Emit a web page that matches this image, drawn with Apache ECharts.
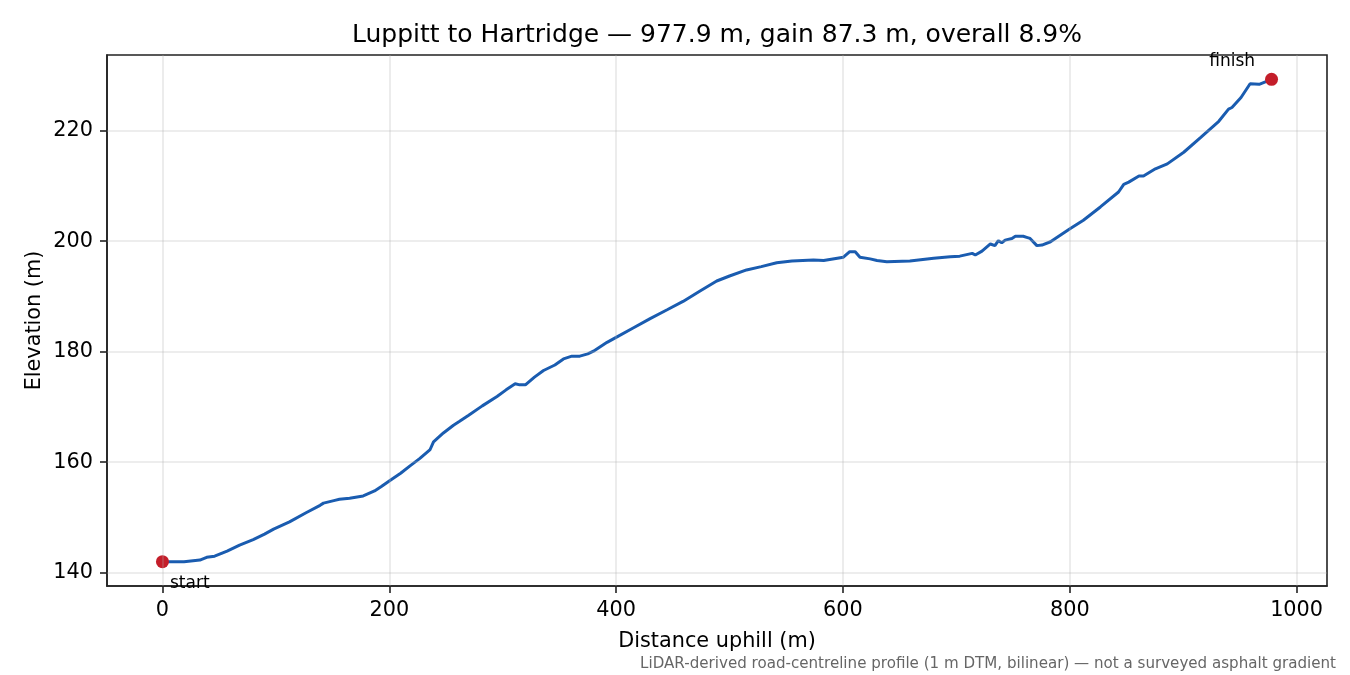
<!DOCTYPE html>
<html>
<head>
<meta charset="utf-8">
<script src="https://cdn.jsdelivr.net/npm/echarts@6/dist/echarts.min.js"></script>
<style>html,body{margin:0;padding:0;background:#fff}#c{width:1350px;height:675px}</style>
</head>
<body>
<div id="c"></div>
<script>
const distance = [0,10,19,33,39,46,57,68,80,90,98,112,127,139,142,152,156,165,177,187,193,200.6,210,218,227,236,239,247.7,256.6,262,270,282,295,303,311,315,320,328,336,346,353.6,361,368,375,380,392,400,415,430,445,459,474,488.7,500,515,528,541.6,555,574,583,600.4,606,610.8,615,624,630,638.7,659,680,694.6,703,714,716.7,722.6,730,734,737,740,743,749,752,759,762,765,771,775.5,783,800.5,812,827,843,847.6,852,861,865,875.5,886,900.5,915,931.4,940,943,951,959,967,977.9];
const elevation = [142.0,142.0,142.0,142.3,142.8,143.0,143.9,145.0,146.0,147.0,147.9,149.2,150.9,152.2,152.6,153.1,153.3,153.5,153.9,154.8,155.6,156.7,158.0,159.3,160.7,162.3,163.7,165.3,166.7,167.4,168.5,170.2,171.9,173.1,174.2,174.0,174.0,175.4,176.6,177.6,178.7,179.2,179.2,179.6,180.1,181.7,182.6,184.3,186.0,187.6,189.1,191.0,192.8,193.7,194.8,195.4,196.1,196.4,196.6,196.5,197.1,198.1,198.1,197.1,196.8,196.5,196.3,196.4,196.9,197.2,197.3,197.8,197.5,198.2,199.5,199.2,200.1,199.7,200.2,200.5,200.9,200.9,200.7,200.5,199.2,199.3,199.9,202.3,203.8,206.2,208.9,210.3,210.7,211.8,211.8,213.1,214.0,216.1,218.7,221.7,223.9,224.2,226.0,228.5,228.4,229.3];
const xTicks = [0,200,400,600,800,1000];
const yTicks = [140,160,180,200,220];
const endpoints = [
  {name:'start', d:0, e:142.0},
  {name:'finish', d:977.9, e:229.3}
];
const titleText = 'Luppitt to Hartridge — 977.9 m, gain 87.3 m, overall 8.9%';
const footnote = 'LiDAR-derived road-centreline profile (1 m DTM, bilinear) — not a surveyed asphalt gradient';

const FONT = 'DejaVu Sans';
const chart = echarts.init(document.getElementById('c'));
const gridColor = 'rgba(176,176,176,0.3)';
chart.setOption({
  animation:false,
  backgroundColor:'#fff',
  textStyle:{fontFamily:FONT},
  title:[
    {text:titleText,left:347,top:18,textStyle:{fontFamily:FONT,fontSize:25,fontWeight:'normal',color:'#000'}},
    {text:footnote,right:9,top:652,textStyle:{fontFamily:FONT,fontSize:15.1,fontWeight:'normal',color:'#666'}}
  ],
  grid:{left:107,right:23,top:55,bottom:89,show:true,borderColor:'#222',borderWidth:1.6,backgroundColor:'transparent'},
  xAxis:{type:'value',min:-48.9,max:1026.8,
    name:'Distance uphill (m)',nameLocation:'middle',nameGap:45,nameMoveOverlap:false,
    nameTextStyle:{fontFamily:FONT,fontSize:20.8,color:'#000'},
    axisLine:{show:true,onZero:false,lineStyle:{color:'#222',width:1.6}},
    axisTick:{show:true,inside:false,length:7,customValues:xTicks,lineStyle:{color:'#222',width:1.6}},
    axisLabel:{customValues:xTicks,formatter:v=>String(v),fontFamily:FONT,fontSize:20.8,color:'#000',margin:14},
    splitLine:{show:false}},
  yAxis:{type:'value',min:137.6,max:233.7,
    name:'Elevation (m)',nameLocation:'middle',nameGap:62,nameRotate:90,nameMoveOverlap:false,
    nameTextStyle:{fontFamily:FONT,fontSize:20.8,color:'#000'},
    axisLine:{show:true,onZero:false,lineStyle:{color:'#222',width:1.6}},
    axisTick:{show:true,inside:false,length:7,customValues:yTicks,lineStyle:{color:'#222',width:1.6}},
    axisLabel:{customValues:yTicks,formatter:v=>String(v),fontFamily:FONT,fontSize:20.8,color:'#000',margin:14},
    splitLine:{show:false}},
  series:[
    {type:'line',data:[],z:1,silent:true,
      markLine:{silent:true,symbol:'none',label:{show:false},animation:false,
        lineStyle:{color:gridColor,width:1.6,type:'solid'},
        data:xTicks.map(v=>({xAxis:v})).concat(yTicks.map(v=>({yAxis:v})))}},
    {type:'line',z:3,data:distance.map((d,i)=>[d,elevation[i]]),showSymbol:false,symbol:'none',
      lineStyle:{color:'#1a5cb0',width:3},smooth:false},
    {type:'scatter',z:4,symbolSize:13,itemStyle:{color:'#c41e2a',opacity:1},
      data:endpoints.map(p=>({value:[p.d,p.e],name:p.name,
        label:{show:true,formatter:p.name,fontFamily:FONT,fontSize:17,color:'#000',
          position:p.name==='start'?'right':'left',
          align:p.name==='start'?'left':'right',
          offset:p.name==='start'?[-4,22]:[-5,-18]}}))}
  ]
});
</script>
</body>
</html>
